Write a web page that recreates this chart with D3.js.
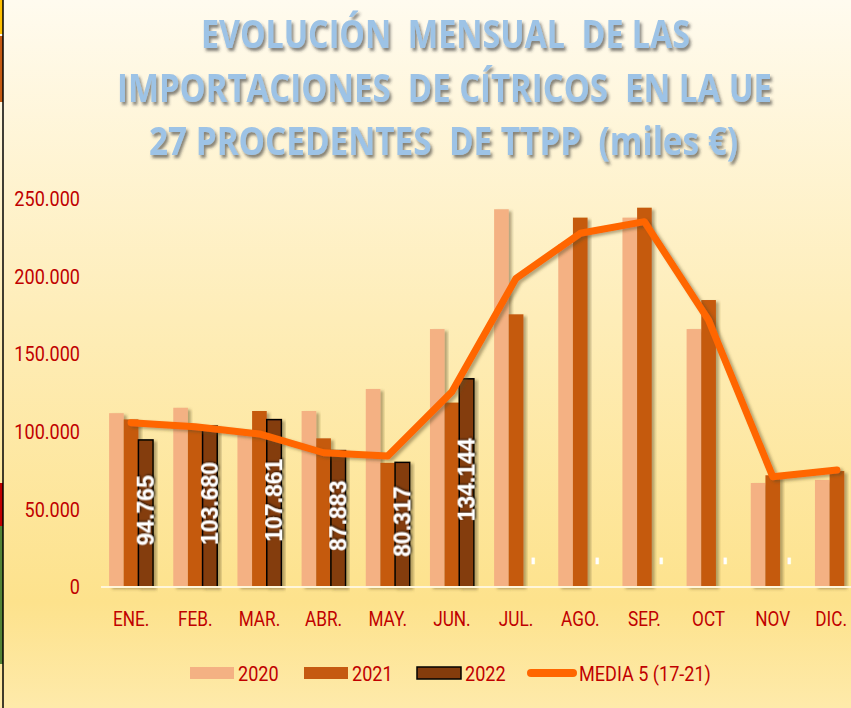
<!DOCTYPE html>
<html>
<head>
<meta charset="utf-8">
<script src="https://cdn.jsdelivr.net/npm/d3@7/dist/d3.min.js"></script>
<style>
  html, body { margin: 0; padding: 0; background: #fff; }
  svg { display: block; }
  .title { font-family: 'Open Sans', sans-serif; font-weight: bold; fill: #9DC3E6; white-space: pre; }
  .lbl { font-family: Roboto, sans-serif; fill: #C00000; }
  .val { font-family: 'Liberation Sans', sans-serif; font-weight: bold; fill: #fff; }
</style>
</head>
<body>
<div id="vis"></div>
<script>
const W = 851, H = 708;

// data (miles €)
const months = ['ENE.', 'FEB.', 'MAR.', 'ABR.', 'MAY.', 'JUN.', 'JUL.', 'AGO.', 'SEP.', 'OCT', 'NOV', 'DIC.'];
const years = ['2020', '2021', '2022'];
const v2020 = [112000, 115500, 101000, 113400, 127600, 166200, 243400, 221000, 238000, 166200, 67000, 69000];
const v2021 = [108000, 103000, 113400, 95800, 80000, 118800, 175700, 238000, 244400, 184900, 72000, 74700];
const v2022 = [94765, 103680, 107861, 87883, 80317, 134144, 0, 0, 0, 0, 0, 0];
const media5 = [105900, 103300, 98600, 86500, 84400, 125800, 198900, 227900, 235400, 172000, 71100, 75400];
const yTicks = [0, 50000, 100000, 150000, 200000, 250000];
const titleLines = ['EVOLUCIÓN  MENSUAL  DE LAS', 'IMPORTACIONES  DE CÍTRICOS  EN LA UE', '27 PROCEDENTES  DE TTPP  (miles €)'];
const legendItems = ['2020', '2021', '2022', 'MEDIA 5 (17-21)'];

const colors = {'2020': '#F4B183', '2021': '#C55A11', '2022': '#843C0C'};
const lineColor = '#FF6600';

const fmt = v => d3.format(',')(v).replace(/,/g, '.');

// narrow the labels a bit, the original font is a condensed one
function squeeze(sel, f) {
    sel.each(function() {
        const w = this.getComputedTextLength();
        d3.select(this).attr('textLength', w * f).attr('lengthAdjust', 'spacingAndGlyphs');
    });
}

const svg = d3.select('#vis').append('svg')
    .attr('width', W)
    .attr('height', H);

const defs = svg.append('defs');
const grad = defs.append('linearGradient')
    .attr('id', 'bg')
    .attr('x1', 0).attr('y1', 0).attr('x2', 0).attr('y2', 1);
grad.append('stop').attr('offset', '0%').attr('stop-color', '#FFFBEF');
grad.append('stop').attr('offset', '45%').attr('stop-color', '#FEEDB8');
grad.append('stop').attr('offset', '85%').attr('stop-color', '#FDE28C');
grad.append('stop').attr('offset', '100%').attr('stop-color', '#FEEAAA');

defs.append('filter').attr('id', 'shadow')
    .attr('x', '-20%').attr('y', '-20%').attr('width', '150%').attr('height', '150%')
    .append('feDropShadow')
    .attr('dx', 3).attr('dy', 2).attr('stdDeviation', 1.6)
    .attr('flood-color', '#5a4a20').attr('flood-opacity', 0.45);

defs.append('filter').attr('id', 'tshadow')
    .attr('x', '-10%').attr('y', '-30%').attr('width', '130%').attr('height', '170%')
    .append('feDropShadow')
    .attr('dx', 2).attr('dy', 3).attr('stdDeviation', 1.5)
    .attr('flood-color', '#333').attr('flood-opacity', 0.6);

defs.append('filter').attr('id', 'vshadow')
    .attr('x', '-30%').attr('y', '-30%').attr('width', '160%').attr('height', '160%')
    .append('feDropShadow')
    .attr('dx', 1).attr('dy', 1).attr('stdDeviation', 1.2)
    .attr('flood-color', '#000').attr('flood-opacity', 0.8);

svg.append('rect')
    .attr('width', W).attr('height', H)
    .attr('fill', 'url(#bg)');

// left border remnants of the spreadsheet
const strip = [
    {y0: 0, y1: 34, c: '#FFC000'},
    {y0: 36, y1: 102, c: '#C55A11'},
    {y0: 483, y1: 526, c: '#C00000'},
    {y0: 526, y1: 664, c: '#548235'}
];
svg.selectAll('.strip').data(strip).join('rect')
    .attr('x', 0).attr('width', 3)
    .attr('y', d => d.y0).attr('height', d => d.y1 - d.y0)
    .attr('fill', d => d.c);
svg.append('line')
    .attr('x1', 3).attr('x2', 3).attr('y1', 0).attr('y2', H)
    .attr('stroke', '#000').attr('stroke-width', 1.5);

// title
svg.selectAll('.title').data(titleLines).join('text')
    .attr('class', 'title')
    .attr('x', (d, i) => [201, 117, 149][i])
    .attr('y', (d, i) => [48, 102, 155][i])
    .attr('textLength', (d, i) => [489, 655, 589][i])
    .attr('lengthAdjust', 'spacingAndGlyphs')
    .style('font-size', '39px')
    .attr('filter', 'url(#tshadow)')
    .text(d => d);

// scales
const x0 = d3.scaleBand()
    .domain(months)
    .range([99, 869])
    .paddingInner(0.315)
    .paddingOuter(0.1575);

const x1 = d3.scaleBand()
    .domain(years)
    .range([0, x0.bandwidth()]);

const y = d3.scaleLinear()
    .domain([0, 250000])
    .range([587, 199]);

// y axis labels
const yAxis = svg.append('g')
    .attr('transform', 'translate(80,0)')
    .call(d3.axisLeft(y).tickValues(yTicks).tickSize(0).tickPadding(0).tickFormat(fmt));
yAxis.select('.domain').remove();
yAxis.attr('font-family', null).attr('font-size', null);
yAxis.selectAll('text')
    .attr('class', 'lbl')
    .style('font-size', '21px')
    .call(squeeze, 0.86);

// bars
const rows = months.map((m, i) => ({month: m, vals: [
    {year: '2020', v: v2020[i]},
    {year: '2021', v: v2021[i]},
    {year: '2022', v: v2022[i]}
]}));

const groups = svg.append('g').selectAll('g')
    .data(rows).join('g')
    .attr('transform', d => `translate(${x0(d.month)},0)`);

groups.selectAll('rect')
    .data(d => d.vals.filter(e => e.v > 0))
    .join('rect')
    .attr('x', d => x1(d.year))
    .attr('width', x1.bandwidth())
    .attr('y', d => y(d.v))
    .attr('height', d => y(0) - y(d.v))
    .attr('fill', d => colors[d.year])
    .attr('stroke', d => d.year === '2022' ? '#000' : 'none')
    .attr('stroke-width', 1.5)
    .attr('filter', 'url(#shadow)');

// axis baseline
svg.append('line')
    .attr('x1', 101).attr('x2', W)
    .attr('y1', y(0)).attr('y2', y(0))
    .attr('stroke', '#FFF6DA').attr('stroke-width', 2);

// media line
const line = d3.line()
    .x((d, i) => x0(months[i]) + x0.bandwidth() / 2)
    .y(d => y(d));

svg.append('path')
    .datum(media5)
    .attr('d', line)
    .attr('fill', 'none')
    .attr('stroke', lineColor)
    .attr('stroke-width', 7)
    .attr('stroke-linejoin', 'round')
    .attr('stroke-linecap', 'round')
    .attr('filter', 'url(#shadow)');

// 2022 data labels (a dash for the empty months, if it fits on the page)
groups.each(function(d) {
    const e = d.vals[2];
    const cx = x1('2022') + x1.bandwidth() / 2;
    if (x0(d.month) + cx + 2 > W) return;
    const cy = e.v > 0 ? (y(e.v) + y(0)) / 2 - 3 : y(0) - 26;
    d3.select(this).append('text')
        .attr('class', 'val')
        .attr('transform', `translate(${cx},${cy}) rotate(-90)`)
        .attr('text-anchor', 'middle')
        .attr('dominant-baseline', 'central')
        .style('font-size', e.v > 0 ? '23px' : '26px')
        .attr('filter', e.v > 0 ? 'url(#vshadow)' : null)
        .text(e.v > 0 ? fmt(e.v) : '-');
});

// x labels
svg.append('g').selectAll('text')
    .data(months).join('text')
    .attr('class', 'lbl')
    .attr('text-anchor', 'middle')
    .attr('y', 626)
    .style('font-size', '20px')
    .text(d => d)
    .call(squeeze, 0.86)
    .attr('x', function(d) {
        const half = this.getComputedTextLength() / 2;
        return Math.min(x0(d) + x0.bandwidth() / 2, W - half - 4);
    });

// legend
const legX = [190, 304, 417, 527];
const leg = svg.append('g').selectAll('g')
    .data(legendItems).join('g')
    .attr('transform', (d, i) => `translate(${legX[i]},0)`);

leg.filter((d, i) => i < 3).append('rect')
    .attr('y', 667).attr('width', 44).attr('height', 12)
    .attr('fill', d => colors[d])
    .attr('stroke', d => d === '2022' ? '#000' : 'none')
    .attr('stroke-width', 1.5);

leg.filter((d, i) => i === 3).append('line')
    .attr('x1', 4).attr('x2', 46)
    .attr('y1', 673).attr('y2', 673)
    .attr('stroke', lineColor)
    .attr('stroke-width', 8)
    .attr('stroke-linecap', 'round');

leg.append('text')
    .attr('class', 'lbl')
    .attr('x', (d, i) => i < 3 ? 48 : 52)
    .attr('y', 681)
    .style('font-size', '21px')
    .text(d => d)
    .call(squeeze, 0.86);
</script>
</body>
</html>
